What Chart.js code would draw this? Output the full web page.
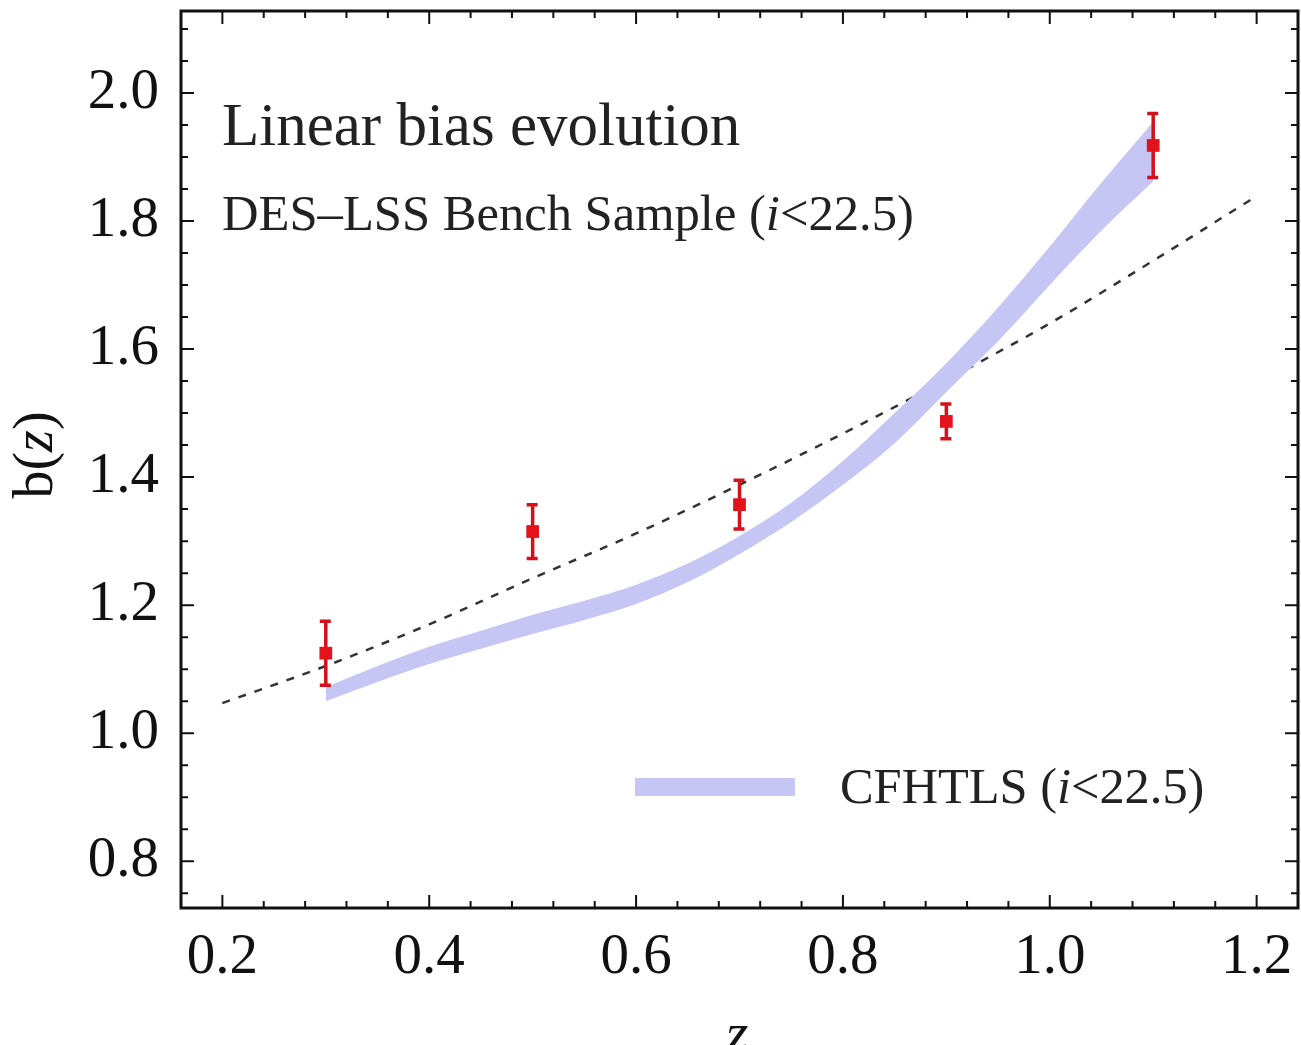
<!DOCTYPE html>
<html>
<head>
<meta charset="utf-8">
<script src="https://cdn.jsdelivr.net/npm/chart.js@4.4.1/dist/chart.umd.min.js"></script>
<style>
  html, body { margin: 0; padding: 0; background: #fff; }
  #wrap { width: 1301px; height: 1045px; }
</style>
</head>
<body>
<div id="wrap"><canvas id="c" width="1301" height="1045"></canvas></div>
<script>
// DES-LSS bench sample measurements
const zPoints = [0.3, 0.5, 0.7, 0.9, 1.1]
const bPoints = [1.125, 1.315, 1.357, 1.487, 1.918]
const bErrors = [0.05, 0.042, 0.038, 0.027, 0.05]

// CFHTLS band
const zBand = [0.3, 0.35, 0.4, 0.45, 0.5, 0.55, 0.6, 0.65, 0.7, 0.75, 0.8, 0.85, 0.9, 0.95, 1.0, 1.05, 1.1]
const bandLower = [1.050, 1.080, 1.108, 1.132, 1.155, 1.177, 1.202, 1.236, 1.280, 1.330, 1.388, 1.453, 1.533, 1.612, 1.700, 1.785, 1.862]
const bandUpper = [1.072, 1.105, 1.135, 1.160, 1.185, 1.207, 1.232, 1.265, 1.308, 1.360, 1.425, 1.500, 1.578, 1.665, 1.760, 1.860, 1.955]

// dashed reference curve
const zFit = [0.2, 0.3, 0.4, 0.5, 0.6, 0.7, 0.8, 0.9, 1.0, 1.1, 1.2]
const bFit = [1.047, 1.105, 1.170, 1.242, 1.312, 1.388, 1.468, 1.552, 1.640, 1.738, 1.839]

const xTicks = [0.2, 0.4, 0.6, 0.8, 1.0, 1.2]
const yTicks = [0.8, 1.0, 1.2, 1.4, 1.6, 1.8, 2.0]
const xMinor = [0.24, 0.28, 0.32, 0.36, 0.44, 0.48, 0.52, 0.56, 0.64, 0.68, 0.72, 0.76, 0.84, 0.88, 0.92, 0.96, 1.04, 1.08, 1.12, 1.16]
const yMinor = [0.75, 0.85, 0.9, 0.95, 1.05, 1.1, 1.15, 1.25, 1.3, 1.35, 1.45, 1.5, 1.55, 1.65, 1.7, 1.75, 1.85, 1.9, 1.95, 2.05, 2.1]

const bandColor = 'rgb(198, 198, 244)'
const pointColor = '#e3121b'
const serif = '"Liberation Serif", "DejaVu Serif", serif'
const toXY = (xs, ys) => xs.map((x, i) => ({ x, y: ys[i] }))
const noPad = (s) => { s.paddingTop = 0; s.paddingBottom = 0; s.paddingLeft = 0; s.paddingRight = 0 }

const frameTicks = {
  id: 'frameTicks',
  afterDraw(chart) {
    const { ctx, chartArea: a, scales } = chart
    const xs = scales.x
    const ys = scales.y
    ctx.save()
    ctx.strokeStyle = '#111'
    ctx.lineWidth = 2
    const tick = (vals, len) => {
      vals.forEach((v) => {
        const px = xs.getPixelForValue(v)
        ctx.beginPath()
        ctx.moveTo(px, a.bottom); ctx.lineTo(px, a.bottom - len)
        ctx.moveTo(px, a.top); ctx.lineTo(px, a.top + len)
        ctx.stroke()
      })
    }
    const ytick = (vals, len) => {
      vals.forEach((v) => {
        const py = ys.getPixelForValue(v)
        ctx.beginPath()
        ctx.moveTo(a.left, py); ctx.lineTo(a.left + len, py)
        ctx.moveTo(a.right, py); ctx.lineTo(a.right - len, py)
        ctx.stroke()
      })
    }
    tick(xTicks, 13)
    tick(xMinor, 7)
    ytick(yTicks, 13)
    ytick(yMinor, 7)
    ctx.lineWidth = 3
    ctx.strokeRect(a.left, a.top, a.right - a.left, a.bottom - a.top)
    ctx.restore()
  },
}

const errorBars = {
  id: 'errorBars',
  beforeDatasetDraw(chart, args) {
    if (args.index !== 0) return
    const { ctx, scales } = chart
    ctx.save()
    ctx.strokeStyle = '#d4101a'
    ctx.lineWidth = 3.5
    zPoints.forEach((z, i) => {
      const px = scales.x.getPixelForValue(z)
      const top = scales.y.getPixelForValue(bPoints[i] + bErrors[i])
      const bot = scales.y.getPixelForValue(bPoints[i] - bErrors[i])
      ctx.beginPath()
      ctx.moveTo(px, top); ctx.lineTo(px, bot)
      ctx.moveTo(px - 6, top); ctx.lineTo(px + 5, top)
      ctx.moveTo(px - 6, bot); ctx.lineTo(px + 5, bot)
      ctx.stroke()
    })
    ctx.restore()
  },
}

const labels = {
  id: 'labels',
  afterDraw(chart) {
    const { ctx } = chart
    ctx.save()
    ctx.fillStyle = '#222'
    ctx.textBaseline = 'alphabetic'
    ctx.textAlign = 'left'

    ctx.font = `61px ${serif}`
    ctx.fillText('Linear bias evolution', 222, 145)

    const run = (parts, x, y, size) => {
      parts.forEach(([t, it]) => {
        ctx.font = `${it ? 'italic ' : ''}${size}px ${serif}`
        ctx.fillText(t, x, y)
        x += ctx.measureText(t).width
      })
    }
    run([['DES\u2013LSS Bench Sample (', false], ['i', true], ['<22.5)', false]], 222, 230, 50.6)

    // legend
    ctx.fillStyle = bandColor
    ctx.fillRect(635, 778, 160, 18)
    ctx.fillStyle = '#222'
    run([['CFHTLS (', false], ['i', true], ['<22.5)', false]], 840, 803, 50.4)

    // axis titles
    ctx.fillStyle = '#111'
    ctx.font = `italic 58px ${serif}`
    ctx.textAlign = 'center'
    ctx.fillText('z', 737, 1052)

    ctx.translate(52, 455)
    ctx.rotate(-Math.PI / 2)
    ctx.textAlign = 'left'
    const parts = [['b(', false], ['z', true], [')', false]]
    let w = 0
    parts.forEach(([t, it]) => {
      ctx.font = `${it ? 'italic ' : ''}56px ${serif}`
      w += ctx.measureText(t).width
    })
    run(parts, -w / 2, 0, 56)
    ctx.restore()
  },
}

new Chart(document.getElementById('c'), {
  type: 'scatter',
  data: {
    datasets: [
      {
        label: 'DES-LSS',
        data: toXY(zPoints, bPoints),
        pointStyle: 'rect',
        pointRadius: 9,
        backgroundColor: pointColor,
        borderColor: pointColor,
        borderWidth: 0,
        order: 0,
      },
      {
        label: 'CFHTLS lower',
        type: 'line',
        data: toXY(zBand, bandLower),
        borderWidth: 0,
        pointRadius: 0,
        cubicInterpolationMode: 'monotone',
        fill: false,
        order: 2,
      },
      {
        label: 'CFHTLS (i<22.5)',
        type: 'line',
        data: toXY(zBand, bandUpper),
        borderWidth: 0,
        pointRadius: 0,
        cubicInterpolationMode: 'monotone',
        backgroundColor: bandColor,
        fill: 1,
        order: 1,
      },
      {
        label: 'fit',
        type: 'line',
        data: toXY(zFit, bFit),
        borderColor: '#333',
        borderWidth: 2.5,
        borderDash: [8, 9],
        pointRadius: 0,
        cubicInterpolationMode: 'monotone',
        fill: false,
        order: 3,
      },
    ],
  },
  options: {
    responsive: false,
    animation: false,
    layout: { autoPadding: false, padding: { top: 11, right: 3, left: 0, bottom: 0 } },
    plugins: {
      legend: { display: false },
      tooltip: { enabled: false },
    },
    scales: {
      x: {
        type: 'linear',
        min: 0.16,
        max: 1.24,
        grid: { display: false },
        border: { display: false },
        afterBuildTicks: (s) => { s.ticks = xTicks.map((v) => ({ value: v })) },
        afterFit: (s) => { s.height = 137; noPad(s) },
        ticks: {
          autoSkip: false,
          maxRotation: 0,
          padding: 8,
          color: '#111',
          font: { family: serif, size: 57 },
          callback: (v) => Number(v).toFixed(1),
        },
      },
      y: {
        type: 'linear',
        min: 0.727,
        max: 2.128,
        grid: { display: false },
        border: { display: false },
        afterBuildTicks: (s) => { s.ticks = yTicks.map((v) => ({ value: v })) },
        afterFit: (s) => { s.width = 181; noPad(s) },
        ticks: {
          autoSkip: false,
          padding: 14,
          color: '#111',
          font: { family: serif, size: 57 },
          callback: (v) => Number(v).toFixed(1),
        },
      },
    },
  },
  plugins: [frameTicks, errorBars, labels],
})
</script>
</body>
</html>
